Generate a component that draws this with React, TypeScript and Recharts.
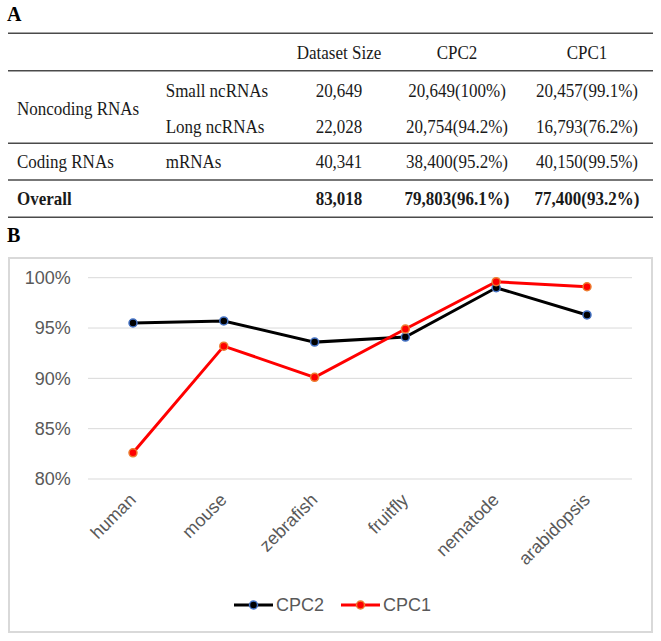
import { LineChart, Line, XAxis, YAxis, CartesianGrid, Legend } from "recharts";

// Panel B data: prediction accuracy per species (%)
const SPECIES = ["human", "mouse", "zebrafish", "fruitfly", "nematode", "arabidopsis"];
const CPC2_ACC = [95.5, 95.7, 93.6, 94.1, 99.0, 96.3];
const CPC1_ACC = [82.6, 93.2, 90.1, 94.9, 99.6, 99.1];
const Y_TICKS = [80, 85, 90, 95, 100];

// Panel A table
const TABLE_HEADERS = ["Dataset Size", "CPC2", "CPC1"];
const RNA_TYPES = ["Small ncRNAs", "Long ncRNAs", "mRNAs", ""];
const DATASET_SIZES = ["20,649", "22,028", "40,341", "83,018"];
const CPC2_COUNTS = ["20,649(100%)", "20,754(94.2%)", "38,400(95.2%)", "79,803(96.1%)"];
const CPC1_COUNTS = ["20,457(99.1%)", "16,793(76.2%)", "40,150(99.5%)", "77,400(93.2%)"];

const SERIES = [
  { key: "CPC2", line: "#000000", fill: "#000000", ring: "#4472c4" },
  { key: "CPC1", line: "#ff0000", fill: "#ff0000", ring: "#ed7d31" },
];

const data = SPECIES.map((s, i) => ({ species: s, CPC2: CPC2_ACC[i], CPC1: CPC1_ACC[i] }));

const SANS = '"Liberation Sans", Arial, sans-serif';
const SERIF = '"Liberation Serif", "Times New Roman", serif';
const GRAY = "#595959";

function SerifText({ x, y, anchor = "start", bold = false, children }: any) {
  return (
    <text
      transform={`translate(${x},${y}) scale(1,1.1)`}
      textAnchor={anchor}
      fontFamily={SERIF}
      fontSize={17}
      fontWeight={bold ? "bold" : "normal"}
      fill="#1a1a1a"
    >
      {children}
    </text>
  );
}

function Table() {
  const colX = [339, 457, 587];
  const rowY = [96.7, 132.7, 168, 205];
  const rules = [33.3, 70.7, 143.3, 180, 217.3];
  return (
    <svg width={661} height={232} style={{ position: "absolute", left: 0, top: 0 }}>
      <text x={7} y={21} fontFamily={SERIF} fontSize={20} fontWeight="bold" fill="#000">A</text>
      {rules.map((y) => (
        <line key={y} x1={8} x2={653} y1={y} y2={y} stroke="#4a4a4a" strokeWidth={1.5} />
      ))}
      {TABLE_HEADERS.map((h, i) => (
        <SerifText key={h} x={colX[i]} y={59.3} anchor="middle">{h}</SerifText>
      ))}
      <SerifText x={17} y={115}>Noncoding RNAs</SerifText>
      <SerifText x={17} y={168}>Coding RNAs</SerifText>
      <SerifText x={17} y={205} bold>Overall</SerifText>
      {RNA_TYPES.map((t, i) => (
        <SerifText key={i} x={165.7} y={rowY[i]}>{t}</SerifText>
      ))}
      {[DATASET_SIZES, CPC2_COUNTS, CPC1_COUNTS].map((col, c) =>
        col.map((v, i) => (
          <SerifText key={`${c}-${i}`} x={colX[c]} y={rowY[i]} anchor="middle" bold={i === 3}>
            {v}
          </SerifText>
        ))
      )}
    </svg>
  );
}

function YTick({ x, y, payload }: any) {
  return (
    <text x={x - 17.3} y={y} dy="0.355em" textAnchor="end" fontFamily={SANS} fontSize={18} fill={GRAY}>
      {payload.value}%
    </text>
  );
}

function XTick({ x, y, payload }: any) {
  const ax = x + 4;
  const ay = y + 22;
  return (
    <text
      x={ax}
      y={ay}
      textAnchor="end"
      transform={`rotate(-45, ${ax}, ${ay})`}
      fontFamily={SANS}
      fontSize={18}
      fill={GRAY}
    >
      {payload.value}
    </text>
  );
}

function LegendContent() {
  return (
    <div style={{ display: "flex", justifyContent: "center", gap: 17, paddingLeft: 4 }}>
      {SERIES.map((s) => (
        <div key={s.key} style={{ display: "flex", alignItems: "center" }}>
          <svg width={39} height={12}>
            <line x1={0} x2={39} y1={6} y2={6} stroke={s.line} strokeWidth={3} />
            <circle cx={19.5} cy={6} r={4} fill={s.fill} stroke={s.ring} strokeWidth={1.5} />
          </svg>
          <span style={{ marginLeft: 3, fontFamily: SANS, fontSize: 18, color: GRAY, lineHeight: "22px" }}>
            {s.key}
          </span>
        </div>
      ))}
    </div>
  );
}

export default function App() {
  return (
    <div style={{ position: "absolute", left: 0, top: 0, width: 661, height: 641, background: "#fff" }}>
      <Table />
      <svg width={40} height={30} style={{ position: "absolute", left: 0, top: 222 }}>
        <text x={7} y={19.7} fontFamily={SERIF} fontSize={20} fontWeight="bold" fill="#000">B</text>
      </svg>
      <div
        style={{
          position: "absolute",
          left: 8,
          top: 257,
          width: 645,
          height: 376,
          boxSizing: "border-box",
          border: "2px solid #d9d9d9",
        }}
      />
      <div style={{ position: "absolute", left: 8, top: 257 }}>
        <LineChart
          width={645}
          height={376}
          data={data}
          margin={{ top: 20.7, right: 21, bottom: 124, left: 20 }}
        >
          <CartesianGrid vertical={false} stroke="#d9d9d9" strokeWidth={1} />
          <XAxis
            dataKey="species"
            height={30}
            padding={{ left: 45, right: 45 }}
            axisLine={false}
            tickLine={false}
            tickSize={0}
            tickMargin={0}
            interval={0}
            tick={<XTick />}
          />
          <YAxis
            width={60}
            domain={[80, 100]}
            ticks={Y_TICKS}
            axisLine={false}
            tickLine={false}
            tickSize={0}
            tickMargin={0}
            tick={<YTick />}
          />
          <Legend
            verticalAlign="middle"
            align="center"
            wrapperStyle={{ top: 337, left: 0, width: 645 }}
            content={<LegendContent />}
          />
          {SERIES.map((s) => (
            <Line
              key={s.key}
              dataKey={s.key}
              stroke={s.line}
              strokeWidth={3}
              dot={{ r: 4, fill: s.fill, stroke: s.ring, strokeWidth: 1.5 }}
              activeDot={false}
              isAnimationActive={false}
            />
          ))}
        </LineChart>
      </div>
    </div>
  );
}
